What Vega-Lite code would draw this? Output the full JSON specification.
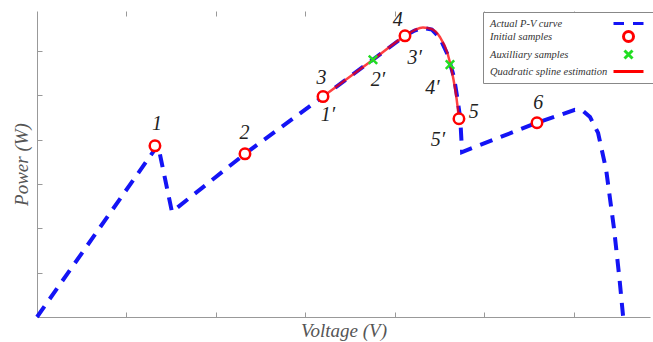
{
  "$schema": "https://vega.github.io/schema/vega-lite/v6.json",
  "width": 613,
  "height": 306,
  "autosize": {"type": "none"},
  "padding": {"left": 37, "top": 11, "right": 3, "bottom": 25},
  "background": "white",
  "config": {
    "view": {"stroke": null},
    "legend": {
      "orient": "none",
      "legendX": 446,
      "legendY": 1,
      "strokeColor": "#888",
      "fillColor": "white",
      "padding": 5,
      "labelFont": "Liberation Serif",
      "labelFontStyle": "italic",
      "labelFontSize": 10.5,
      "labelColor": "#333",
      "labelLimit": 0,
      "symbolOffset": 134,
      "labelOffset": -145,
      "symbolSize": 100,
      "symbolStrokeWidth": 3,
      "rowPadding": -7
    }
  },
  "datasets": {
    "curve": [
      {"i": 0, "V": 0, "P": 0},
      {"i": 1, "V": 1.352, "P": 3.88},
      {"i": 2, "V": 1.508, "P": 2.37},
      {"i": 3, "V": 2.324, "P": 3.68},
      {"i": 4, "V": 3.196, "P": 4.97},
      {"i": 5, "V": 4.112, "P": 6.34},
      {"i": 6, "V": 4.22, "P": 6.46},
      {"i": 7, "V": 4.313, "P": 6.52},
      {"i": 8, "V": 4.413, "P": 6.48},
      {"i": 9, "V": 4.5, "P": 6.3},
      {"i": 10, "V": 4.59, "P": 5.91},
      {"i": 11, "V": 4.66, "P": 5.4},
      {"i": 12, "V": 4.7, "P": 4.9},
      {"i": 13, "V": 4.73, "P": 4.47},
      {"i": 14, "V": 4.75, "P": 3.72},
      {"i": 15, "V": 5.587, "P": 4.38},
      {"i": 16, "V": 6.01, "P": 4.67},
      {"i": 17, "V": 6.1, "P": 4.65},
      {"i": 18, "V": 6.18, "P": 4.51},
      {"i": 19, "V": 6.27, "P": 4.15},
      {"i": 20, "V": 6.36, "P": 3.32},
      {"i": 21, "V": 6.45, "P": 1.96},
      {"i": 22, "V": 6.51, "P": 0.84},
      {"i": 23, "V": 6.55, "P": 0}
    ],
    "spline": [
      {"i": 0, "V": 3.196, "P": 4.97},
      {"i": 1, "V": 3.754, "P": 5.8},
      {"i": 2, "V": 4.112, "P": 6.34},
      {"i": 3, "V": 4.22, "P": 6.47},
      {"i": 4, "V": 4.313, "P": 6.53},
      {"i": 5, "V": 4.413, "P": 6.49},
      {"i": 6, "V": 4.5, "P": 6.32},
      {"i": 7, "V": 4.59, "P": 5.93},
      {"i": 8, "V": 4.64, "P": 5.5},
      {"i": 9, "V": 4.69, "P": 4.9},
      {"i": 10, "V": 4.715, "P": 4.47}
    ],
    "samples": [
      {"series": "Initial samples", "V": 1.318, "P": 3.86},
      {"series": "Initial samples", "V": 2.324, "P": 3.68},
      {"series": "Initial samples", "V": 3.196, "P": 4.97},
      {"series": "Initial samples", "V": 4.112, "P": 6.34},
      {"series": "Initial samples", "V": 4.715, "P": 4.47},
      {"series": "Initial samples", "V": 5.587, "P": 4.38},
      {"series": "Auxilliary samples", "V": 3.754, "P": 5.8},
      {"series": "Auxilliary samples", "V": 4.615, "P": 5.69}
    ],
    "labels": [
      {"text": "1", "V": 1.34, "P": 4.36},
      {"text": "2", "V": 2.32, "P": 4.15},
      {"text": "3", "V": 3.18, "P": 5.4},
      {"text": "4", "V": 4.03, "P": 6.7},
      {"text": "5", "V": 4.88, "P": 4.63},
      {"text": "6", "V": 5.6, "P": 4.83},
      {"text": "1′", "V": 3.25, "P": 4.56},
      {"text": "2′", "V": 3.81, "P": 5.35},
      {"text": "3′", "V": 4.22, "P": 5.85},
      {"text": "4′", "V": 4.42, "P": 5.17},
      {"text": "5′", "V": 4.48, "P": 4.0}
    ]
  },
  "resolve": {"axis": {"x": "independent"}},
  "layer": [
    {
      "data": {"name": "curve"},
      "mark": {"type": "line", "color": "#1414f5", "strokeWidth": 4, "strokeDash": [13, 9]},
      "encoding": {
        "x": {
          "field": "V", "type": "quantitative",
          "scale": {"domain": [0, 6.85], "nice": false, "zero": false},
          "axis": {
            "orient": "bottom", "values": [1, 2, 3, 4, 5, 6], "labels": false, "grid": false,
            "domainColor": "#999", "tickColor": "#999", "tickSize": -5,
            "title": "Voltage (V)", "titleFont": "Liberation Serif", "titleFontStyle": "italic",
            "titleFontWeight": "normal", "titleFontSize": 19, "titleColor": "#555", "titlePadding": 4
          }
        },
        "y": {
          "field": "P", "type": "quantitative",
          "scale": {"domain": [0, 6.9], "nice": false},
          "axis": {
            "orient": "left", "values": [1, 2, 3, 4, 5, 6], "labels": false, "grid": false,
            "domainColor": "#999", "tickColor": "#999", "tickSize": -5,
            "title": "Power (W)", "titleFont": "Liberation Serif", "titleFontStyle": "italic",
            "titleFontWeight": "normal", "titleFontSize": 19, "titleColor": "#555", "titlePadding": 5
          }
        },
        "order": {"field": "i", "type": "quantitative"}
      }
    },
    {
      "data": {"name": "spline"},
      "mark": {"type": "line", "color": "#ff0000", "strokeWidth": 2.5, "opacity": 0.75, "interpolate": "monotone"},
      "encoding": {
        "x": {
          "field": "V", "type": "quantitative",
          "axis": {
            "orient": "top", "values": [1, 2, 3, 4, 5, 6], "labels": false, "grid": false,
            "domain": false, "tickColor": "#999", "tickSize": -5, "title": null
          }
        },
        "y": {"field": "P", "type": "quantitative"},
        "order": {"field": "i", "type": "quantitative"}
      }
    },
    {
      "data": {"name": "samples"},
      "mark": {"type": "point", "filled": false, "fill": "white", "fillOpacity": 1, "strokeWidth": 2.5, "size": 110, "opacity": 1},
      "encoding": {
        "x": {"field": "V", "type": "quantitative", "axis": null},
        "y": {"field": "P", "type": "quantitative"},
        "color": {
          "field": "series", "type": "nominal",
          "scale": {
            "domain": ["Actual P-V curve", "Initial samples", "Auxilliary samples", "Quadratic spline estimation"],
            "range": ["#1414f5", "#ff0000", "#22dd22", "#ff0000"]
          },
          "legend": {"title": null}
        },
        "shape": {
          "field": "series", "type": "nominal",
          "scale": {
            "domain": ["Actual P-V curve", "Initial samples", "Auxilliary samples", "Quadratic spline estimation"],
            "range": ["M-3,0H-0.9M0.9,0H3", "circle", "M-0.8,-0.8L0.8,0.8M-0.8,0.8L0.8,-0.8", "M-3,0H3"]
          },
          "legend": {"title": null}
        }
      }
    },
    {
      "data": {"name": "labels"},
      "mark": {"type": "text", "font": "Liberation Serif", "fontStyle": "italic", "fontSize": 20, "color": "#222", "baseline": "middle", "align": "center"},
      "encoding": {
        "x": {"field": "V", "type": "quantitative", "axis": null},
        "y": {"field": "P", "type": "quantitative"},
        "text": {"field": "text"}
      }
    }
  ]
}
